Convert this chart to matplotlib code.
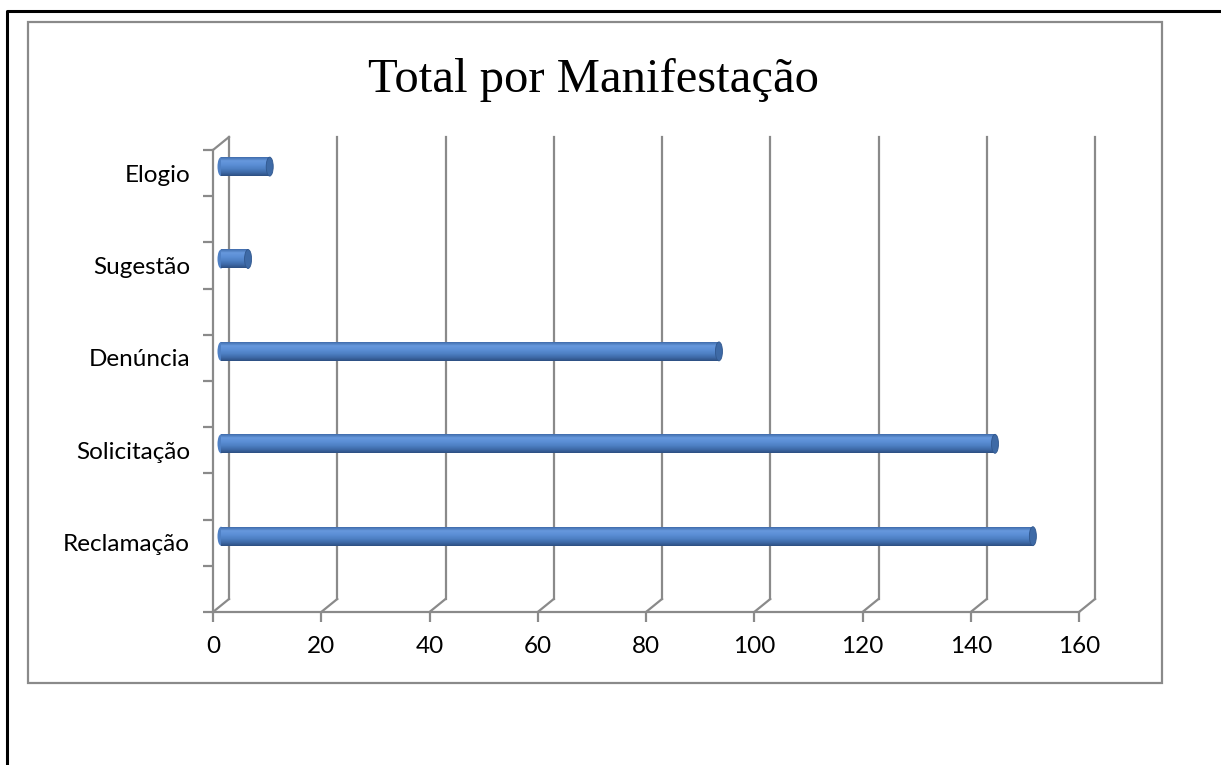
import matplotlib
matplotlib.use('Agg')
import matplotlib.pyplot as plt
from matplotlib.patches import Ellipse, Rectangle
from matplotlib.colors import LinearSegmentedColormap
from matplotlib.lines import Line2D

# Data (bottom to top, as drawn)
categories = ['Reclamação', 'Solicitação', 'Denúncia', 'Sugestão', 'Elogio']
values = [150, 143, 92, 5, 9]
x_ticks = [0, 20, 40, 60, 80, 100, 120, 140, 160]

GRAY = '#8a8a8a'
W, H = 1221, 765

fig = plt.figure(figsize=(W / 100, H / 100), dpi=100)

# front plane of the 3D box, in pixels: x 213..1079, y 150..612 (from top)
ax = fig.add_axes([213 / W, (H - 612) / H, 866 / W, 462 / H])
ax.set_xlim(0, 160)
ax.set_ylim(0, 10)

# depth offset of the back wall in data units (about 16 px right, 13 px up)
DX = 16 / (866 / 160)
DY = 13 / (462 / 10)

for s in ['top', 'right']:
    ax.spines[s].set_visible(False)
for s in ['left', 'bottom']:
    ax.spines[s].set_color(GRAY)
    ax.spines[s].set_linewidth(1.6)

# back wall gridlines and floor diagonals
for x in x_ticks:
    ax.plot([x + DX, x + DX], [DY, 10 + DY], color=GRAY, lw=1.6, clip_on=False, zorder=1)
    ax.plot([x, x + DX], [0, DY], color=GRAY, lw=1.6, clip_on=False, zorder=1)
# left wall top edge
ax.plot([0, DX], [10, 10 + DY], color=GRAY, lw=1.6, clip_on=False, zorder=1)

# cylinder bars, shaded with thin slices
bar_h = 0.41
ypos = [2 * i + 1.5 + DY / 2 for i in range(len(categories))]
cmap = LinearSegmentedColormap.from_list(
    'cyl', ['#3f6baa', '#6698dc', '#5b8ed5', '#4e80c4', '#3e6aa8', '#2c4e80'])
n = 19
for k in range(n):
    frac = (k + 0.5) / n
    yy = [y + bar_h / 2 - (k + 1) * bar_h / n for y in ypos]
    ax.barh(yy, values, height=bar_h / n * 1.05, left=DX / 2, align='edge',
            color=cmap(frac), lw=0, zorder=3, clip_on=False)

cap_w = 7 / (866 / 160)
for y, v in zip(ypos, values):
    ax.add_patch(Ellipse((DX / 2, y), cap_w, bar_h, color='#4f80c4', lw=0,
                         zorder=2.5, clip_on=False))
    ax.add_patch(Ellipse((DX / 2 + v, y), cap_w, bar_h, facecolor='#3e6aa6',
                         edgecolor='#30578e', lw=0.6, zorder=4, clip_on=False))

# ticks and labels
ax.set_xticks(x_ticks)
ax.set_xticklabels([str(t) for t in x_ticks])
ax.set_yticks(range(11))
ax.set_yticklabels([])
ax.set_yticks([2 * i + 1.5 for i in range(len(categories))], minor=True)
ax.set_yticklabels(categories, minor=True)
ax.tick_params(axis='both', which='major', length=7, width=1.6, color=GRAY,
               labelsize=17.5, labelcolor='black')
ax.tick_params(axis='x', pad=10)
ax.tick_params(axis='y', which='minor', length=0, pad=16.5, labelsize=17.5)
for lbl in ax.get_xticklabels() + ax.get_yticklabels(minor=True):
    lbl.set_fontfamily('Lato')
ax.patch.set_visible(False)

# title
fig.text(594 / W, (H - 92) / H, 'Total por Manifestação', ha='center', va='baseline',
         fontsize=35, family='Liberation Serif')

# chart area border and page frame
fig.patches.append(Rectangle((28 / W, (H - 683) / H), 1134 / W, 661 / H,
                             transform=fig.transFigure, fill=False,
                             edgecolor=GRAY, lw=1.6))
fig.lines.append(Line2D([7.5 / W, 7.5 / W, 1.01], [-0.01, (H - 11) / H, (H - 11) / H],
                        transform=fig.transFigure, color='black', lw=2.2))

fig.savefig('out.png', dpi=100)
